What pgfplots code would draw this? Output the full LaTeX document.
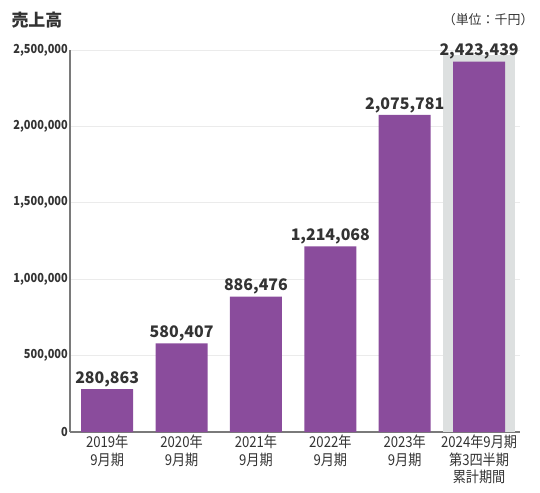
\documentclass[border=0pt]{standalone}
\usepackage{fontspec}
\setmainfont{Noto Sans CJK JP}
\newfontfamily\condfont[FakeStretch=0.88]{Noto Sans CJK JP}
\usepackage{pgfplots}
\pgfplotsset{compat=1.18}

\definecolor{barpurple}{HTML}{8A4C9C}
\definecolor{hlgray}{HTML}{DDE0E0}
\definecolor{gridgray}{HTML}{EBEBEB}
\definecolor{axisgray}{HTML}{7A7A7A}
\definecolor{txt}{HTML}{333333}

\begin{document}
\begin{tikzpicture}
\path[use as bounding box] (-70bp,-61bp) rectangle (470bp,432bp);
\begin{axis}[
    scale only axis,
    width=450bp, height=382bp,
    xmin=-0.5, xmax=5.55,
    ymin=0, ymax=2500000,
    axis x line=bottom, axis y line=left,
    axis line style={axisgray, line width=1.2pt, -},
    ytick={0,500000,1000000,1500000,2000000,2500000},
    yticklabels={0,{500,000},{1,000,000},{1,500,000},{2,000,000},{2,500,000}},
    yticklabel style={font=\condfont\bfseries\fontsize{12.5}{13}\selectfont, text=txt, inner sep=2pt},
    scaled y ticks=false,
    xtick={0,1,2,3,4,5},
    xticklabels={{2019年\\9月期},{2020年\\9月期},{2021年\\9月期},{2022年\\9月期},{2023年\\9月期},{2024年9月期\\第3四半期\\累計期間}},
    xticklabel style={font=\condfont\fontsize{15}{17.5}\selectfont, text=txt, align=center, inner sep=3pt},
    major tick length=0pt,
    ymajorgrids, grid style={gridgray, line width=0.8pt},
    ybar, bar width=52bp,
    point meta=explicit symbolic,
    nodes near coords,
    nodes near coords style={font=\bfseries\fontsize{16}{17}\selectfont, text=txt, inner sep=2pt},
    clip=false,
]
\fill[hlgray] (axis cs:4.52,0) rectangle (axis cs:5.48,2470000);
\addplot[fill=barpurple, draw=none] coordinates {
    (0,280863) [280,863]
    (1,580407) [580,407]
    (2,886476) [886,476]
    (3,1214068) [{1,214,068}]
    (4,2075781) [{2,075,781}]
    (5,2423439) [{2,423,439}]
};
\end{axis}
\node[anchor=west, font=\bfseries\fontsize{17}{18}\selectfont, text=txt] at (-62bp,412bp) {売上高};
\node[anchor=east, font=\fontsize{13}{14}\selectfont, text=txt] at (467bp,412bp) {（単位：千円）};
\end{tikzpicture}
\end{document}
